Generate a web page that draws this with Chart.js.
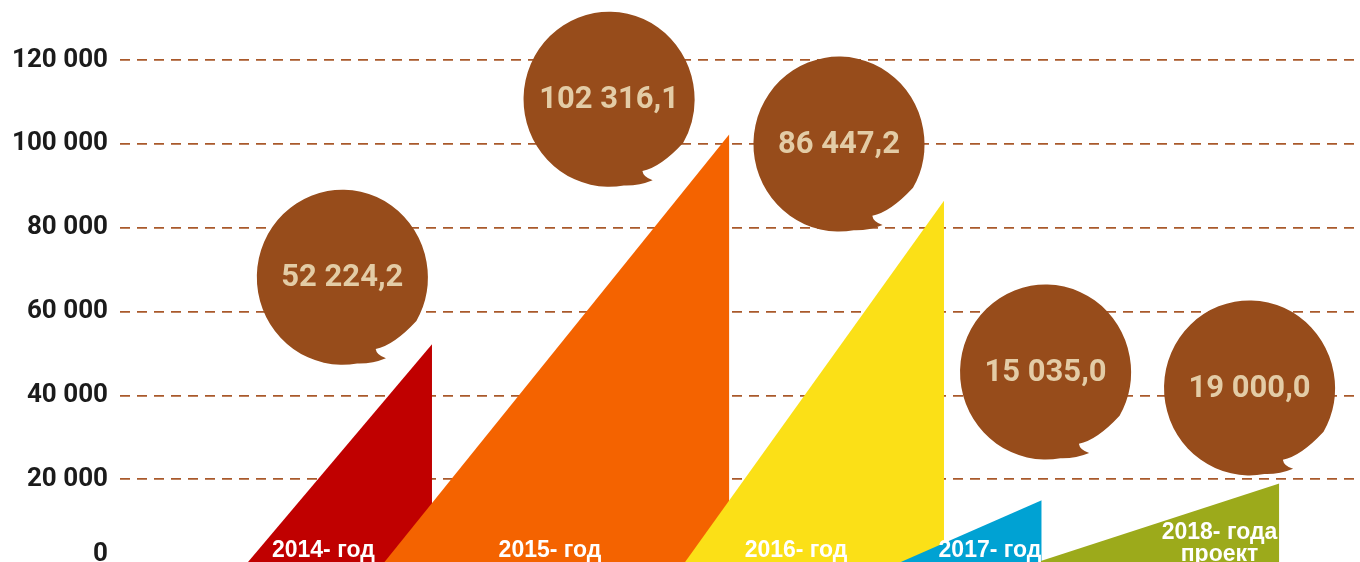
<!DOCTYPE html>
<html>
<head>
<meta charset="utf-8">
<script src="https://cdn.jsdelivr.net/npm/chart.js@4/dist/chart.umd.min.js"></script>
<style>
html,body{margin:0;padding:0;background:#fff;overflow:hidden}
#wrap{position:relative;width:1360px;height:600px}
</style>
</head>
<body>
<div id="wrap"><canvas id="c"></canvas></div>
<script>
// ---- data ----
const years = ['2014- год', '2015- год', '2016- год', '2017- год', '2018- года проект'];
const yearLines = [['2014- год'], ['2015- год'], ['2016- год'], ['2017- год'], ['2018- года', 'проект']];
const values = [52224.2, 102316.1, 86447.2, 15035.0, 19000.0];
const yTicks = [0, 20000, 40000, 60000, 80000, 100000, 120000];

// ---- layout (hidden x axis runs 0..100) ----
const triStart = [10.24, 21.25, 45.5, 62.74, 73.7];
const triEnd   = [25.16, 49.14, 66.45, 74.33, 93.49];
const labelX   = [16.4, 34.68, 54.52, 70.16, 88.67];
const bubbleX  = [17.93, 39.44, 57.98, 74.64, 91.09];
const bubbleY  = [68200, 110650, 99950, 45600, 41800];

// ---- styles ----
const colors = ['#c00000', '#f46300', '#fbe017', '#00a2d3', '#9caa1b'];
const bubbleColor = '#974c1b';
const bubbleText = '#e3cca6';
const gridColor = '#a9592b';

function fmt(v, dec) {
  const s = v.toFixed(dec);
  const parts = s.split('.');
  const g = parts[0].replace(/\B(?=(\d{3})+(?!\d))/g, ' ');
  return parts[1] ? g + ',' + parts[1] : g;
}

const n = values.length;
const datasets = values.map((v, i) => ({
  label: years[i],
  data: [{x: triStart[i], y: 0}, {x: triEnd[i], y: v}, {x: triEnd[i], y: 0}],
  backgroundColor: colors[i],
  borderColor: 'rgba(0,0,0,0)',
  borderWidth: 0,
  pointRadius: 0,
  fill: 'origin',
  tension: 0,
  order: n - i
}));

function bubblePath(ctx) {
  const a0 = 80 * Math.PI / 180, a1 = (30 + 360) * Math.PI / 180;
  ctx.moveTo(Math.cos(a0), Math.sin(a0));
  ctx.arc(0, 0, 1, a0, a1, false);
  ctx.quadraticCurveTo(0.60, 0.78, 0.39, 0.82);
  ctx.quadraticCurveTo(0.40, 0.89, 0.51, 0.925);
  ctx.quadraticCurveTo(0.35, 0.99, Math.cos(a0), Math.sin(a0));
  ctx.closePath();
}

const overlay = {
  id: 'overlay',
  afterDatasetsDraw(chart) {
    const ctx = chart.ctx;
    const xs = chart.scales.x, ys = chart.scales.y;
    const y0 = ys.getPixelForValue(0);
    // year labels
    ctx.save();
    ctx.fillStyle = '#ffffff';
    ctx.font = 'bold 23px "Liberation Sans", Arial, sans-serif';
    ctx.textAlign = 'center';
    ctx.textBaseline = 'alphabetic';
    yearLines.forEach((lines, i) => {
      const x = xs.getPixelForValue(labelX[i]);
      if (lines.length === 1) {
        ctx.fillText(lines[0], x, y0 - 6);
      } else {
        ctx.fillText(lines[0], x, y0 - 24);
        ctx.fillText(lines[1], x, y0 - 2);
      }
    });
    ctx.restore();
    // bubbles
    values.forEach((v, i) => {
      const cx = xs.getPixelForValue(bubbleX[i]);
      const cy = ys.getPixelForValue(bubbleY[i]);
      ctx.save();
      ctx.beginPath();
      ctx.translate(cx, cy);
      ctx.scale(85.5, 87.5);
      bubblePath(ctx);
      ctx.restore();
      ctx.fillStyle = bubbleColor;
      ctx.fill();
      ctx.save();
      ctx.fillStyle = bubbleText;
      ctx.font = 'bold 31px Roboto, "DejaVu Sans", sans-serif';
      ctx.textAlign = 'center';
      ctx.textBaseline = 'middle';
      ctx.fillText(fmt(v, 1), cx, cy + 1);
      ctx.restore();
    });
  }
};

new Chart(document.getElementById('c'), {
  type: 'line',
  data: { datasets },
  options: {
    responsive: true,
    maintainAspectRatio: false,
    animation: false,
    events: [],
    layout: { padding: { top: 60, bottom: 36.8, left: 0, right: 0 } },
    plugins: { legend: { display: false }, tooltip: { enabled: false } },
    scales: {
      x: { type: 'linear', min: 0, max: 100, display: false },
      y: {
        type: 'linear', min: 0, max: 120000,
        afterBuildTicks(scale) { scale.ticks = yTicks.map(v => ({ value: v })); },
        afterFit(scale) { scale.width = 120; },
        grid: { color: gridColor, lineWidth: 1.7, drawTicks: false },
        border: { display: false, dash: [10, 7] },
        ticks: {
          padding: 12,
          color: '#1b1b1b',
          font: { family: 'Roboto', weight: 'bold', size: 26, lineHeight: 0.7 },
          callback: (v) => v === 0 ? ['0', ''] : fmt(v, 0)
        }
      }
    }
  },
  plugins: [overlay]
});
</script>
</body>
</html>
